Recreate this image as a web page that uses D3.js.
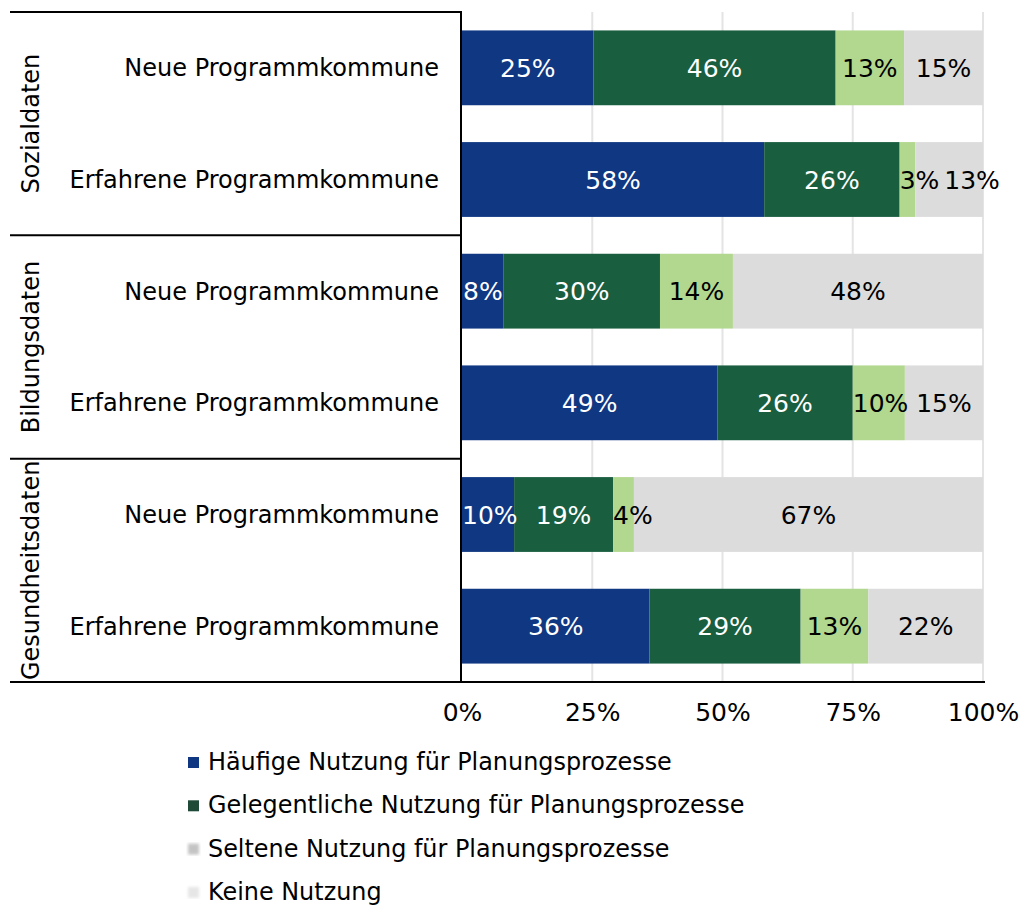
<!DOCTYPE html>
<html>
<head>
<meta charset="utf-8">
<script src="https://cdn.jsdelivr.net/npm/d3@7"></script>
<style>
  html, body { margin: 0; padding: 0; background: #fff; }
  svg { display: block; font-family: "DejaVu Sans", Verdana, sans-serif; }
</style>
</head>
<body>
<svg id="chart" width="1026" height="906"></svg>
<script>
// Data-use categories (outer groups) and municipality types (inner rows)
const groups = ["Sozialdaten", "Bildungsdaten", "Gesundheitsdaten"];
const rowTypes = ["Neue Programmkommune", "Erfahrene Programmkommune"];
const seriesNames = [
  "Häufige Nutzung für Planungsprozesse",
  "Gelegentliche Nutzung für Planungsprozesse",
  "Seltene Nutzung für Planungsprozesse",
  "Keine Nutzung"
];
// Shares in percent, one array per series, rows in order
// Sozial/Neu, Sozial/Erfahren, Bildung/Neu, Bildung/Erfahren, Gesundheit/Neu, Gesundheit/Erfahren
const haeufig      = [25, 58,  8, 49, 10, 36];
const gelegentlich = [46, 26, 30, 26, 19, 29];
const selten       = [13,  3, 14, 10,  4, 13];
const keine        = [15, 13, 48, 15, 67, 22];
const tickValues = [0, 0.25, 0.5, 0.75, 1];

const colors = ["#0f3782", "#1a5e40", "#b2d78e", "#dcdcdc"];
const labelColors = ["#ffffff", "#ffffff", "#000000", "#000000"];
const legendSwatch = ["#0f3782", "#1f4a38", "#c4c4c4", "#e6e6e6"];

const keys = ["h", "g", "s", "k"];
const rows = [];
groups.forEach((g, gi) => rowTypes.forEach((t, ti) => {
  const i = gi * rowTypes.length + ti;
  rows.push({ id: i, group: g, type: t,
    h: haeufig[i], g: gelegentlich[i], s: selten[i], k: keine[i] });
}));

const svg = d3.select("#chart");
const plotLeft = 462, plotRight = 983, plotTop = 12, plotBottom = 682;

const x = d3.scaleLinear().domain([0, 1]).range([plotLeft, plotRight]);
const y = d3.scaleBand().domain(rows.map(d => d.id)).range([plotTop, plotBottom])
  .paddingInner(0.33).paddingOuter(0.165);

// Light vertical gridlines
svg.append("g").selectAll("line").data(tickValues.slice(1)).join("line")
  .attr("x1", d => x(d)).attr("x2", d => x(d))
  .attr("y1", plotTop).attr("y2", plotBottom)
  .attr("stroke", "#e4e4e4").attr("stroke-width", 2);

// 100% stacked bars
const stack = d3.stack().keys(keys).offset(d3.stackOffsetExpand);
const layers = stack(rows);

const layerG = svg.append("g").selectAll("g").data(layers).join("g")
  .attr("fill", (d, i) => colors[i]);
layerG.selectAll("rect").data(d => d).join("rect")
  .attr("x", d => x(d[0]))
  .attr("width", d => x(d[1]) - x(d[0]))
  .attr("y", d => y(d.data.id))
  .attr("height", y.bandwidth());

// Value labels: centred in each segment; labels wider than their segment start at
// the segment's left edge, and any label that would collide with its left
// neighbour is pushed to the right.
const lab = svg.append("g").attr("font-size", 25).attr("text-anchor", "start");
const labelGap = 5;
rows.forEach((row, ri) => {
  let prevRight = -Infinity;
  layers.forEach((layer, li) => {
    const seg = layer[ri];
    const x0 = x(seg[0]), x1 = x(seg[1]);
    const t = lab.append("text")
      .attr("y", y(row.id) + y.bandwidth() / 2)
      .attr("dy", "0.36em")
      .attr("fill", labelColors[li])
      .text(row[layer.key] + "%");
    const w = t.node().getComputedTextLength();
    let left = (w > x1 - x0) ? x0 : (x0 + x1) / 2 - w / 2;
    if (left < prevRight + labelGap) left = prevRight + labelGap;
    t.attr("x", left);
    prevRight = left + w;
  });
});

// Row labels
svg.append("g").attr("font-size", 24).attr("text-anchor", "end")
  .selectAll("text").data(rows).join("text")
  .attr("x", 439)
  .attr("y", d => y(d.id) + y.bandwidth() / 2)
  .attr("dy", "0.36em")
  .attr("fill", "#000")
  .text(d => d.type);

// Group labels (rotated) and group separators
const gy = d3.scaleBand().domain(groups).range([plotTop, plotBottom]);
svg.append("g").attr("font-size", 24).attr("text-anchor", "middle")
  .selectAll("text").data(groups).join("text")
  .attr("transform", d => `translate(39,${gy(d) + gy.bandwidth() / 2}) rotate(-90)`)
  .attr("fill", "#000")
  .text(d => d);

svg.append("g").selectAll("line").data(groups).join("line")
  .attr("x1", 10).attr("x2", plotLeft)
  .attr("y1", d => gy(d)).attr("y2", d => gy(d))
  .attr("stroke", "#000").attr("stroke-width", 2);

// Axis lines
svg.append("line").attr("x1", plotLeft - 1).attr("x2", plotLeft - 1)
  .attr("y1", plotTop).attr("y2", plotBottom).attr("stroke", "#000").attr("stroke-width", 2);
svg.append("line").attr("x1", 10).attr("x2", plotRight + 2)
  .attr("y1", plotBottom).attr("y2", plotBottom).attr("stroke", "#000").attr("stroke-width", 2);

// Bottom axis tick labels
const xAxis = d3.axisBottom(x).tickValues(tickValues).tickFormat(d3.format(".0%"))
  .tickSize(0).tickPadding(21);
const axG = svg.append("g").attr("transform", `translate(0,${plotBottom})`).call(xAxis);
axG.select(".domain").remove();
axG.selectAll("text").attr("font-size", 25)
  .attr("font-family", "DejaVu Sans, Verdana, sans-serif").attr("fill", "#000");

// Legend
const defs = svg.append("defs");
defs.append("filter").attr("id", "soft").append("feGaussianBlur").attr("stdDeviation", 1.8);
const legend = svg.append("g").attr("transform", "translate(188,762)");
const items = legend.selectAll("g").data(seriesNames).join("g")
  .attr("transform", (d, i) => `translate(0,${i * 43.3})`);
items.append("rect").attr("x", 0).attr("y", -5).attr("width", 11).attr("height", 11)
  .attr("fill", (d, i) => legendSwatch[i])
  .attr("filter", (d, i) => i >= 2 ? "url(#soft)" : null);
items.append("text").attr("x", 20).attr("dy", "0.34em").attr("font-size", 23.9)
  .attr("fill", "#000").text(d => d);
</script>
</body>
</html>
